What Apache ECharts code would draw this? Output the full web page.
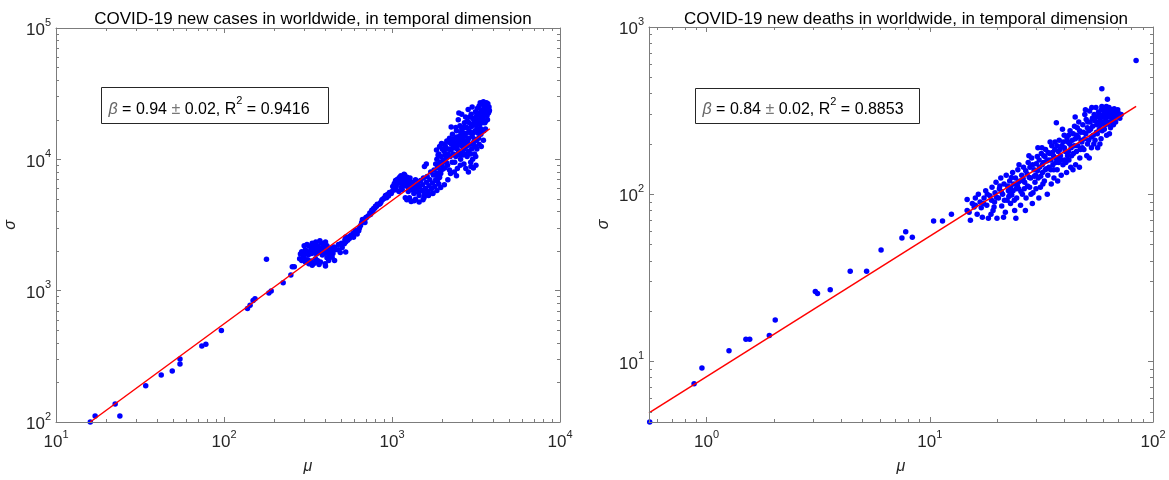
<!DOCTYPE html>
<html>
<head>
<meta charset="utf-8">
<script src="https://cdn.jsdelivr.net/npm/echarts@6/dist/echarts.min.js"></script>
<style>html,body{margin:0;padding:0;background:#fff}#c{width:1169px;height:480px}</style>
</head>
<body>
<div id="c"></div>
<script>
// ---------- data ----------
const casesTitle = 'COVID-19 new cases in worldwide, in temporal dimension';
const deathsTitle = 'COVID-19 new deaths in worldwide, in temporal dimension';
const casesXRange = [10, 10000];
const casesYRange = [100, 100000];
const deathsXRange = [0.552, 100];
const deathsYRange = [4.35, 1000];
const casesFit = [[16, 100], [3820, 17100]];
const deathsFit = [[0.552, 4.93], [84, 335]];
const casesLabel = { beta: '0.94', err: '0.02', r2: '0.9416' };
const deathsLabel = { beta: '0.84', err: '0.02', r2: '0.8853' };

const casesLow = [[16,100],[17.1,111],[22.5,137],[24,111],[34.2,189],[42.3,228],[49.2,244],[54.7,302],[54.7,277],[73.8,379],[78,390],[96.5,497],[138,733],[143,773],[149,842],[153,866],[185,962],[191,995],[179,1738],[225,1151],[250,1316],[255,1519],[262,1519]];
const casesBlobA = [[300,2200],[312,2250],[322,2180],[335,2300],[345,2250],[352,2350],[363,2200],[372,2400],[382,2300],[392,2250],[402,2350],[410,2200],[330,2150],[356,2120],[395,2150],
[285,1900],[290,1980],[297,1850],[305,2050],[310,1950],[318,1880],[325,2000],[333,1920],[340,2080],[348,1980],[355,1900],[362,2050],[370,1950],[378,2100],[385,1870],[393,2000],[400,1930],[412,2050],[420,1980],[430,2100],[440,2000],[450,2150],[460,2050],[425,1850],[445,1920],
[282,1750],[290,1700],[300,1780],[305,1650],[315,1720],[320,1600],[330,1680],[335,1560],[345,1620],[350,1750],[360,1700],[368,1580],[375,1650],[400,1600],[410,1780],[420,1700],[402,1540],[440,1800],[455,1700]];
const casesBand = [[457,2130],[480,2250],[505,2130],[524,2430],[530,2560],[558,2500],[573,2650],[588,2740],[603,2860],[618,2880],[634,2860],[650,3140],[667,3480],[684,3420],[701,3570],[738,3910],[758,4100],[777,4220],[797,4390],[817,4550],[838,4550],[860,4740],[882,4970],[904,5110],[927,5110],[952,5260],[976,5530],[1000,5680],[1026,5860],[1052,5860],
[520,2280],[545,2420],[560,2600],[590,2550],[610,2800],[640,3000],[660,3300],[690,3300],[720,3700],[745,3800],[770,4000],[790,4250],[810,4400],[850,4600],[870,4900],[890,5000],[915,5300],[940,5400],[965,5600],[990,5500],[480,2050],[500,2300],[530,2350],[620,2700],[700,3600],[492,1950],[530,1970]];
const casesBlobB = [[1010,6200],[1030,6500],[1050,6900],[1060,6300],[1080,6700],[1090,7100],[1100,6600],[1110,7300],[1120,6900],[1130,7500],[1140,7000],[1150,7400],[1160,6500],[1170,7200],[1180,6800],[1190,7600],[1200,6300],[1210,7000],[1220,6600],[1230,7300],[1240,6200],[1250,6900],[1260,6000],[1270,6500],[1280,7200],[1300,6100],[1320,6700],[1340,5800],[1360,6300],[1380,7000],[1400,6000],[1420,6500],[1440,5600],[1460,6200],[1480,6900],[1500,5800],[1520,6400],[1540,7200],[1560,5500],[1580,6000],[1600,6700],[1620,7400],[1640,5700],[1660,6300],[1680,7000],[1700,8000],[1720,6000],[1740,6600],[1760,7600],[1780,8300],[1800,6200],[1820,7000],[1850,7800],[1870,8600],[1900,6500],[1920,7300],[1950,8200],[1980,9000],[1100,5700],[1150,5900],[1250,5700],[1350,5500],[1450,5300],[1550,5100],[1650,5300],[1750,5500],[1850,5800],[1950,6100],
[1200,5100],[1225,4920],[1270,5110],[1300,4770],[1355,4840],[1380,4970],[1450,4740],[1530,4920],[1560,5260],[1750,5530],[1560,8800],[1600,9200],[1040,6600],[1070,7000],[1130,6100],[1180,7700]];
const casesBlobC = [[1820,9200],[1850,10000],[1880,8800],[1900,11000],[1930,9500],[1960,10500],[1990,12000],[2000,8400],[1840,11800],[1970,13200],[1900,7200],[1950,7800],[1860,6800],
[2020,9800],[2040,11500],[2060,8600],[2080,12500],[2100,10200],[2120,13800],[2140,9000],[2160,11000],[2180,12000],[2200,14500],[2220,10500],[2250,17600],[2260,13000],[2280,9500],[2290,15500],[2050,6400],[2150,7000],[2230,7800],[2100,12000],[2200,8300],
[2320,11000],[2340,12800],[2360,9500],[2380,14500],[2400,10500],[2420,16500],[2440,12000],[2460,13500],[2480,20000],[2500,11500],[2520,15000],[2540,18000],[2560,10000],[2580,13000],[2600,22000],[2620,12500],[2640,16000],[2660,14000],[2680,9200],[2700,19000],[2350,8000],[2450,8500],[2550,9000],[2650,10800],[2400,17500],[2500,22500],[2600,17000],[2320,13500],[2480,11000],[2560,14500],[2690,12000],[2420,7500],
[2720,15000],[2740,21000],[2760,12500],[2780,17500],[2800,10500],[2820,14000],[2840,24000],[2860,11500],[2880,19000],[2900,13000],[2920,16000],[2940,9500],[2960,22000],[2980,12000],[3000,15000],[3020,10000],[3040,18500],[3060,13500],[3080,20000],[3100,11000],[3120,16500],[3140,23000],[3160,9000],[3180,14000],[2750,8500],[2850,8000],[2950,8800],[3050,8600],[3150,10500],[2780,13000],[3000,25000],[3100,19000],[2880,16500],[3200,12000],
[3220,17000],[3250,20000],[3280,14500],[3300,25500],[3320,18500],[3350,27000],[3380,15500],[3400,21000],[3420,26500],[3450,19000],[3480,23500],[3500,27500],[3520,16500],[3550,22000],[3580,26000],[3600,19500],[3620,24000],[3650,27000],[3680,21500],[3700,23000],[3720,26500],[3750,22500],[3780,25000],[3800,23500],[3300,13000],[3400,12500],[3500,14000],[3600,17000],[3700,20000],
[1830,7600],[1880,10800],[1920,12500],[1990,9600],[2030,13000],[2070,10800],[2110,9400],[2170,13500],[2240,11800],[2270,14200],[2310,12200],[2370,10800],[2390,13200],[2430,14800],[2470,12800],[2510,13800],[2530,10800],[2570,16000],[2610,14800],[2630,11200],[2670,17500],[2710,13500],[2730,11000],[2770,15800],[2810,19500],[2830,12800],[2870,14500],[2910,21000],[2930,11000],[2970,17800],[3010,13000],[3030,20500],[3070,16000],[3110,14200],[3130,12500],[3170,18000],[3190,21500],[3230,24500],[3260,15800],[3290,19500],[3330,22500],[3360,17200],[3410,23500],[3440,16500],[3470,20500],[3530,24800],[3570,19000],[3630,21800],[3670,25500],[3730,24000],[3770,23000]];

const deathsLow = [[0.556,4.35],[0.879,7.37],[0.953,9.14],[1.26,11.6],[1.50,13.6],[1.56,13.6],[1.91,14.3],[2.03,17.7],[3.07,26.2],[3.14,25.5],[3.58,26.9],[4.40,34.6],[5.21,34.6],[6.05,46.5],[7.50,54.8],[7.80,59.7],[8.35,55.3],[10.4,69.2],[11.4,69.2],[12.5,76],[84,631],[59,428],[62.5,370]];
const deathsCluster = [[14.7,93],[14.7,80],[15.2,70],[15.5,88],[16,95],[16.3,76],[16.8,90],[17,83],[17.2,73],[16.5,100],[15.8,84],
[17.5,95],[17.8,105],[18,86],[18.3,72],[18.6,98],[19,110],[19.2,80],[19.5,90],[19.8,118],[20,72],[18.8,76],[19.6,102],
[20.3,95],[20.5,108],[20.8,125],[21,85],[21.2,100],[21.5,115],[21.8,78],[22,130],[22.2,92],[22.5,105],[22.8,120],[23,88],[21.4,73],[22.6,97],[20.6,112],[23,110],
[23.3,99],[23.5,135],[23.8,115],[24,80],[24.2,125],[24.5,95],[24.8,140],[25,108],[25.3,120],[25.5,86],[25.8,130],[26,100],[24.3,72],[23.6,105],[25.1,150],[24.7,112],
[26.3,145],[26.6,118],[27,95],[27.3,132],[27.6,155],[28,110],[28.3,125],[28.6,165],[29,102],[29.3,140],[29.6,118],[30,152],[26.8,80],[28.8,88],[27.8,170],[29.8,130],[28.1,145],[26.5,108],
[30.3,168],[30.6,125],[31,145],[31.3,110],[31.6,175],[32,135],[32.3,155],[32.6,120],[33,185],[33.3,142],[33.6,100],[34,160],[30.8,95],[32.8,168],[31.8,190],[33.8,130],[30.5,190],[32.1,115],
[34.4,175],[34.8,140],[35.2,195],[35.6,150],[36,125],[36.4,205],[36.8,165],[37.2,140],[37.6,180],[38,210],[35,115],[36.9,268],[37.8,155],[35.8,170],[34.6,205],[37.4,120],
[38.5,170],[39,195],[39.5,150],[40,225],[40.5,180],[41,135],[41.5,205],[42,160],[42.5,240],[43,190],[39.3,245],[41.2,215],[42.8,145],[40.2,160],[38.8,130],[41.8,180],
[43.5,210],[44,175],[44.5,255],[45,150],[45.5,225],[46,195],[46.5,270],[47,165],[47.5,235],[48,205],[44.8,290],[46.8,145],[43.8,140],[45.8,250],[47.3,185],
[48.5,260],[49,185],[49.5,300],[50,230],[50.5,170],[51,270],[51.5,210],[52,315],[52.5,245],[53,190],[53.5,285],[54,225],[49.8,320],[51.8,165],[53.2,330],[50.8,250],
[54.5,300],[55,210],[55.5,330],[56,260],[56.5,190],[57,310],[57.5,245],[58,285],[58.5,215],[59,335],[59.5,270],[60,300],[55.8,235],[57.8,200],[58.8,320],
[60.5,245],[61,320],[61.5,280],[62,225],[62.5,310],[63,265],[63.5,330],[64,290],[64.5,250],[65,320],[65.5,275],[66,305],[61.8,335],[63.8,230],
[66.5,260],[67,325],[67.5,295],[68,270],[68.5,315],[69,290],[70,305],[71,285],[72,300],[69.5,320],
[15.0,78],[16.0,86],[17.4,88],[18.1,100],[18.9,92],[19.4,84],[19.9,96],[20.9,104],[21.6,92],[22.3,112],[22.9,100],[23.2,126],[23.9,92],[24.4,108],[24.9,118],[25.6,104],[26.2,124],[26.9,138],[27.4,112],[27.9,126],[28.4,100],[28.9,150],[29.4,128],[29.9,108],[30.4,138],[30.9,160],[31.4,128],[31.9,150],[32.4,170],[32.9,140],[33.4,158],[33.9,178],[34.2,145],[34.9,160],[35.4,178],[35.9,140],[36.3,185],[36.7,155],[37.1,195],[37.7,165],[38.3,185],[38.9,160],[39.6,205],[40.1,190],[40.7,155],[41.4,170],[41.9,225],[42.4,200],[43.2,170],[43.9,230],[44.4,195],[44.9,215],[45.4,180],[46.2,220],[46.9,240],[47.6,210],[48.2,190],[48.8,235],[49.4,215],[50.2,280],[50.9,200],[51.6,240],[52.3,270],[52.9,220],[53.7,255],[54.3,200],[54.9,275],[55.6,290],[56.3,230],[56.9,270],[57.6,300],[58.3,260],[59.2,240],[59.8,290],[60.6,315],[61.3,260],[62.2,295],[63.3,300],[64.2,270],[65.2,300],[66.3,285],[67.3,310],[68.3,300],[69.2,310],[70.5,290]];

// ---------- styling / helpers ----------
const FONT = "'Liberation Sans', Arial, Helvetica, sans-serif";
const AX = '#7c7c7c';
const TXT = '#262626';
const lg = v => Math.log10(v);
const toLog = pts => pts.map(p => [lg(p[0]), lg(p[1])]);

function majorVals(lo, hi) {
  const out = [];
  for (let d = Math.ceil(lg(lo) - 1e-9); d <= Math.floor(lg(hi) + 1e-9); d++) out.push(d);
  return out;
}
function minorVals(lo, hi) {
  const out = [];
  const a = lg(lo), b = lg(hi);
  for (let d = Math.floor(a) - 1; d <= Math.ceil(b); d++) {
    for (let k = 2; k <= 9; k++) {
      const v = d + Math.log10(k);
      if (v > a + 1e-6 && v < b - 1e-6) out.push(v);
    }
  }
  return out;
}
const supRich = {
  b: { fontSize: 17, fontFamily: FONT, color: TXT, lineHeight: 22, verticalAlign: 'bottom' },
  s: { fontSize: 11, fontFamily: FONT, color: TXT, lineHeight: 22, verticalAlign: 'top' }
};
function axisSet(dim, gridIndex, range, name, nameGap) {
  const min = lg(range[0]), max = lg(range[1]);
  const majors = majorVals(range[0], range[1]);
  const minors = minorVals(range[0], range[1]);
  const pos = dim === 'x' ? ['bottom', 'top'] : ['left', 'right'];
  const base = { type: 'value', gridIndex, min, max, splitLine: { show: false }, z: 5 };
  const line = { show: true, onZero: false, lineStyle: { color: AX, width: 1 } };
  const main = Object.assign({}, base, {
    position: pos[0],
    axisLine: line,
    axisTick: { show: true, inside: true, length: 5, customValues: majors, lineStyle: { color: AX } },
    axisLabel: {
      show: true, customValues: majors, margin: dim === 'x' ? 7 : 5,
      formatter: v => '{b|10}{s|' + Math.round(v) + '}', rich: supRich
    },
    name, nameLocation: 'middle', nameGap,
    nameTextStyle: { fontFamily: FONT, fontSize: 16, fontStyle: 'italic', color: TXT }
  });
  const opp = Object.assign({}, base, {
    position: pos[1],
    axisLine: line,
    axisTick: { show: true, inside: true, length: 5, customValues: majors, lineStyle: { color: AX } },
    axisLabel: { show: false }
  });
  const minA = Object.assign({}, base, {
    position: pos[0],
    axisLine: { show: false, onZero: false },
    axisTick: { show: true, inside: true, length: 3, customValues: minors, lineStyle: { color: AX } },
    axisLabel: { show: false }
  });
  const minB = Object.assign({}, minA, { position: pos[1] });
  return [main, opp, minA, minB];
}

function annot(x, y, w, h, lab) {
  return {
    type: 'group', left: x, top: y,
    children: [
      { type: 'rect', shape: { x: 0, y: 0, width: w, height: h }, style: { fill: '#fff', stroke: '#262626', lineWidth: 1 }, z: 100 },
      { type: 'text', x: 7, y: h / 2 + 1, z: 101,
        style: {
          text: '{i|β}{t| = ' + lab.beta + ' }{g|±}{t| ' + lab.err + ', R}{s|2}{t| = ' + lab.r2 + '}',
          verticalAlign: 'middle', align: 'left',
          rich: {
            i: { fontSize: 16, fontFamily: FONT, fontStyle: 'italic', fill: '#666', lineHeight: 22, verticalAlign: 'bottom' },
            t: { fontSize: 16, fontFamily: FONT, fill: '#000', lineHeight: 22, verticalAlign: 'bottom' },
            g: { fontSize: 16, fontFamily: FONT, fill: '#777', lineHeight: 22, verticalAlign: 'bottom' },
            s: { fontSize: 11, fontFamily: FONT, fill: '#000', lineHeight: 22, verticalAlign: 'top' }
          }
        } }
    ]
  };
}

const xAxes = [].concat(axisSet('x', 0, casesXRange, 'μ', 37), axisSet('x', 1, deathsXRange, 'μ', 37));
const yAxes = [].concat(axisSet('y', 0, casesYRange, 'σ', 37), axisSet('y', 1, deathsYRange, 'σ', 37));

const scatterStyle = { color: '#0000ff', opacity: 1 };
const option = {
  animation: false,
  backgroundColor: '#fff',
  title: [
    { text: casesTitle, left: 308, top: 6, textAlign: 'center', textStyle: { fontFamily: FONT, fontSize: 17, fontWeight: 'normal', color: '#000' } },
    { text: deathsTitle, left: 901, top: 6, textAlign: 'center', textStyle: { fontFamily: FONT, fontSize: 17, fontWeight: 'normal', color: '#000' } }
  ],
  grid: [
    { left: 56, top: 28, width: 504, height: 396 },
    { left: 649, top: 27, width: 504, height: 398 }
  ],
  xAxis: xAxes,
  yAxis: yAxes,
  series: [
    { type: 'scatter', xAxisIndex: 0, yAxisIndex: 0, symbolSize: 5.5, clip: false, itemStyle: scatterStyle,
      data: toLog([].concat(casesLow, casesBlobA, casesBand, casesBlobB, casesBlobC)) },
    { type: 'line', xAxisIndex: 0, yAxisIndex: 0, symbol: 'none', lineStyle: { color: '#ff0000', width: 1.5 }, z: 3, data: toLog(casesFit) },
    { type: 'scatter', xAxisIndex: 4, yAxisIndex: 4, symbolSize: 5.5, clip: false, itemStyle: scatterStyle,
      data: toLog([].concat(deathsLow, deathsCluster)) },
    { type: 'line', xAxisIndex: 4, yAxisIndex: 4, symbol: 'none', lineStyle: { color: '#ff0000', width: 1.5 }, z: 3, data: toLog(deathsFit) }
  ],
  graphic: [annot(101, 87, 227, 36, casesLabel), annot(695, 88, 224, 35, deathsLabel)]
};
const chart = echarts.init(document.getElementById('c'), null, { renderer: 'canvas' });
chart.setOption(option);
</script>
</body>
</html>
